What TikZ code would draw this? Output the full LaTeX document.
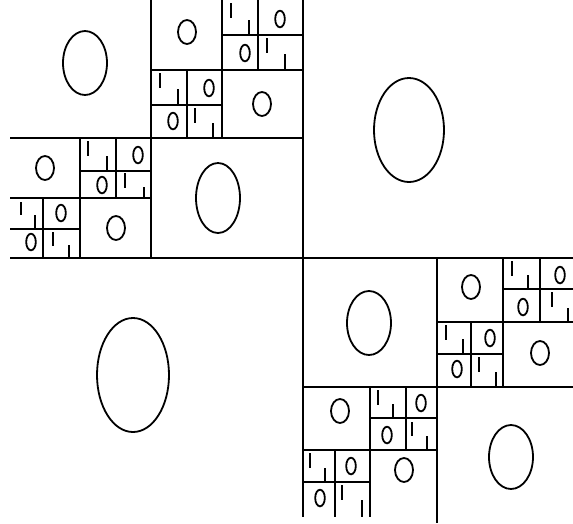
\documentclass[tikz,border=0pt]{standalone}
\begin{document}
\begin{tikzpicture}[x=1pt,y=-1pt,
  ln/.style={line width=1.8pt},
  ov/.style={line width=1.8pt},
  tk/.style={line width=1.8pt}]
\useasboundingbox (0,0) rectangle (573,523);
% top level cross
\draw[ln] (303,0) -- (303,517);
\draw[ln] (10,258) -- (573,258);
% ---- top-left quadrant
\draw[ln] (151,0) -- (151,258);
\draw[ln] (10,138) -- (303,138);
\draw[ov] (85,63) ellipse [x radius=22, y radius=32];
\draw[ov] (218,198) ellipse [x radius=22, y radius=35];
% TR cell of TL
\draw[ln] (222,0) -- (222,138);
\draw[ln] (151,70) -- (303,70);
\draw[ov] (187,32) ellipse [x radius=9, y radius=12];
\draw[ov] (262,104) ellipse [x radius=9, y radius=12];
\draw[ln] (258,0) -- (258,70);
\draw[ln] (222,35) -- (303,35);
\draw[tk] (231,3) -- (231,18); \draw[tk] (249,20) -- (249,35);
\draw[ov] (280,19) ellipse [x radius=4.8, y radius=8.3];
\draw[ov] (245,53) ellipse [x radius=4.8, y radius=8.3];
\draw[tk] (267,38) -- (267,53); \draw[tk] (285,54) -- (285,70);
\draw[ln] (187,70) -- (187,138);
\draw[ln] (151,105) -- (222,105);
\draw[tk] (160,73) -- (160,88); \draw[tk] (178,89) -- (178,105);
\draw[ov] (209,88) ellipse [x radius=4.8, y radius=8.3];
\draw[ov] (173,121) ellipse [x radius=4.8, y radius=8.3];
\draw[tk] (195,108) -- (195,123); \draw[tk] (213,123) -- (213,138);
% BL cell of TL
\draw[ln] (80,138) -- (80,258);
\draw[ln] (10,198) -- (151,198);
\draw[ov] (45,168) ellipse [x radius=9, y radius=12];
\draw[ov] (116,228) ellipse [x radius=9, y radius=12];
\draw[ln] (116,138) -- (116,198);
\draw[ln] (80,171) -- (151,171);
\draw[tk] (88,141) -- (88,156); \draw[tk] (107,156) -- (107,171);
\draw[ov] (138,155) ellipse [x radius=4.8, y radius=8.3];
\draw[ov] (102,185) ellipse [x radius=4.8, y radius=8.3];
\draw[tk] (125,173) -- (125,188); \draw[tk] (144,187) -- (144,198);
\draw[ln] (43,198) -- (43,258);
\draw[ln] (10,229) -- (80,229);
\draw[tk] (21,202) -- (21,215); \draw[tk] (35,215) -- (35,229);
\draw[ov] (61,213) ellipse [x radius=4.8, y radius=8.3];
\draw[ov] (31,242) ellipse [x radius=4.8, y radius=8.3];
\draw[tk] (53,232) -- (53,246); \draw[tk] (69,245) -- (69,258);
% ---- top-right and bottom-left quadrants
\draw[ov] (409,130) ellipse [x radius=35, y radius=52];
\draw[ov] (133,375) ellipse [x radius=36, y radius=57];
% ---- bottom-right quadrant
\draw[line width=2.6pt] (437,258) -- (437,523);
\draw[ln] (303,387) -- (573,387);
\draw[ov] (369,323) ellipse [x radius=22, y radius=32];
\draw[ov] (511,457) ellipse [x radius=22, y radius=32];
% TR cell of BR
\draw[ln] (503,258) -- (503,387);
\draw[ln] (437,322) -- (573,322);
\draw[ov] (471,287) ellipse [x radius=9, y radius=12];
\draw[ov] (540,353) ellipse [x radius=9, y radius=12];
\draw[ln] (540,258) -- (540,322);
\draw[ln] (503,289) -- (573,289);
\draw[tk] (512,261) -- (512,276); \draw[tk] (528,275) -- (528,289);
\draw[ov] (560,275) ellipse [x radius=4.8, y radius=8.3];
\draw[ov] (523,307) ellipse [x radius=4.8, y radius=8.3];
\draw[tk] (552,292) -- (552,307); \draw[tk] (568,308) -- (568,322);
\draw[ln] (471,322) -- (471,387);
\draw[ln] (437,354) -- (503,354);
\draw[tk] (446,325) -- (446,340); \draw[tk] (463,339) -- (463,354);
\draw[ov] (490,338) ellipse [x radius=4.8, y radius=8.3];
\draw[ov] (457,369) ellipse [x radius=4.8, y radius=8.3];
\draw[tk] (479,357) -- (479,372); \draw[tk] (496,372) -- (496,387);
% BL cell of BR
\draw[ln] (370,387) -- (370,517);
\draw[ln] (303,450) -- (437,450);
\draw[ov] (340,411) ellipse [x radius=9, y radius=12];
\draw[ov] (404,470) ellipse [x radius=9, y radius=12];
\draw[ln] (406,387) -- (406,450);
\draw[ln] (370,418) -- (437,418);
\draw[tk] (378,390) -- (378,405); \draw[tk] (393,404) -- (393,418);
\draw[ov] (421,403) ellipse [x radius=4.8, y radius=8.3];
\draw[ov] (387,435) ellipse [x radius=4.8, y radius=8.3];
\draw[tk] (412,422) -- (412,436); \draw[tk] (427,436) -- (427,450);
\draw[ln] (335,450) -- (335,517);
\draw[ln] (303,482) -- (370,482);
\draw[tk] (310,453) -- (310,468); \draw[tk] (325,468) -- (325,482);
\draw[ov] (351,466) ellipse [x radius=4.8, y radius=8.3];
\draw[ov] (320,498) ellipse [x radius=4.8, y radius=8.3];
\draw[tk] (342,485) -- (342,500); \draw[tk] (362,500) -- (362,517);
\end{tikzpicture}
\end{document}
